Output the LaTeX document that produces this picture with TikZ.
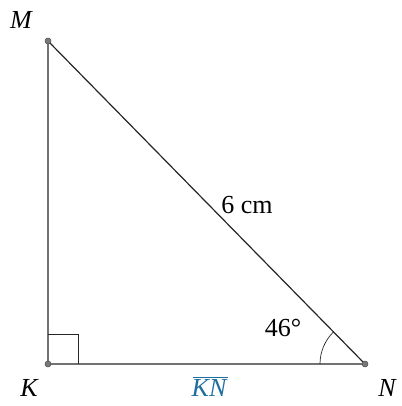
\documentclass[tikz,border=0pt]{standalone}
\usepackage{fontspec}
\setmainfont{Liberation Serif}
\usetikzlibrary{calc}
\definecolor{labblue}{RGB}{30,110,160}
\definecolor{dotgray}{RGB}{120,120,120}
\begin{document}
\begin{tikzpicture}[x=1pt,y=-1pt,
  seg/.style={line width=1.2pt,draw=black!85},
  thin/.style={line width=0.7pt,draw=black!85},
  lab/.style={font=\fontsize{26}{28}\selectfont\itshape},
  meas/.style={font=\fontsize{26}{28}\selectfont},
  pt/.style={circle,fill=dotgray,draw=black!70,line width=0.5pt,inner sep=0pt,minimum size=6pt}]
\useasboundingbox (0,0) rectangle (401,406);
\coordinate (M) at (48,41);
\coordinate (K) at (48,364);
\coordinate (N) at (365,364);
\draw[thin] (48,334) -- (78,334) -- (78,364);
\draw[thin] ($(N)+(-45,0)$) arc[start angle=180,end angle=226,radius=45];
\draw[seg] (M) -- (K) -- (N) -- (M);
\node[pt] (pM) at (M) {};
\node[pt] (pK) at (K) {};
\node[pt] (pN) at (N) {};
\node[lab] (lM) at (21,20) {M};
\node[lab] (lK) at (29,388) {K};
\node[lab] (lN) at (387,388) {N};
\node[meas] (d) at (247,205) {6 cm};
\node[meas] (a) at (283,328) {46°};
\node[lab,text=labblue,inner sep=0pt] (kn) at (209,388) {KN};
\draw[labblue,line width=0.8pt] ([xshift=2pt,yshift=2pt]kn.north west) -- ([xshift=1pt,yshift=2pt]kn.north east);
\end{tikzpicture}
\end{document}
